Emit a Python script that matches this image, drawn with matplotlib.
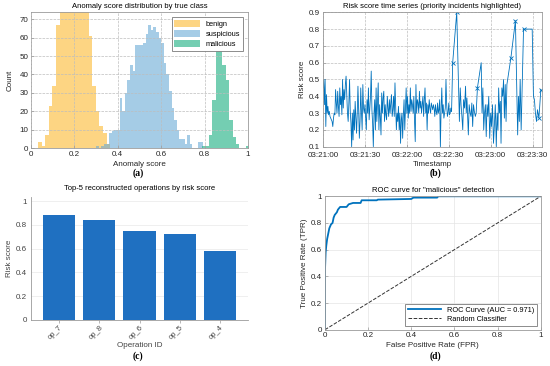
import numpy as np
import pandas as pd
import matplotlib
matplotlib.use('Agg')
import matplotlib.pyplot as plt
import matplotlib.dates as mdates

plt.rcParams['font.family'] = ['Liberation Sans', 'DejaVu Sans']
plt.rcParams['font.size'] = 5

# ---- (a) anomaly score histograms (bin start, bin width, counts) ----
benign_start, benign_width = 0.032, 1 / 60
benign_counts = [3, 1, 7, 23, 34, 67, 80, 92, 100, 104, 101, 96, 88, 78,
                 61, 34, 20, 12, 8, 2]
susp_start, susp_width = 0.300, 0.012
susp_counts = [1, 0, 1, 2, 2, 8, 9, 10, 10, 27, 20, 30, 37, 45, 42, 56, 56,
               56, 57, 62, 67, 64, 66, 63, 60, 57, 46, 40, 31, 22, 15, 10,
               5, 5, 2, 7, 2, 0, 0, 3, 3]
mal_start, mal_width = 0.790, 0.0154
mal_counts = [1, 1, 7, 26, 62, 58, 45, 37, 15, 6, 2, 0, 0, 1]

# ---- (b) risk score time series (seconds after 03:21:00) ----
dense_t = [i * 0.5 for i in range(185)]
dense_v = [0.45, 0.50, 0.35, 0.50, 0.22, 0.41, 0.30, 0.34, 0.29, 0.31,
           0.28, 0.27, 0.26, 0.25, 0.22, 0.27, 0.30, 0.29, 0.44, 0.36,
           0.30, 0.43, 0.34, 0.28, 0.45, 0.35, 0.40, 0.29, 0.50, 0.33,
           0.44, 0.38, 0.47, 0.52, 0.41, 0.30, 0.25, 0.36, 0.50, 0.31,
           0.24, 0.10, 0.30, 0.14, 0.32, 0.20, 0.37, 0.28, 0.18, 0.30,
           0.46, 0.32, 0.15, 0.25, 0.45, 0.31, 0.20, 0.47, 0.33, 0.30,
           0.35, 0.28, 0.20, 0.38, 0.30, 0.45, 0.26, 0.33, 0.40, 0.55,
           0.32, 0.24, 0.10, 0.30, 0.38, 0.20, 0.45, 0.25, 0.36, 0.48,
           0.20, 0.35, 0.28, 0.17, 0.42, 0.30, 0.39, 0.43, 0.25, 0.35,
           0.29, 0.26, 0.40, 0.33, 0.28, 0.38, 0.30, 0.36, 0.41, 0.28,
           0.32, 0.40, 0.28, 0.48, 0.33, 0.20, 0.30, 0.25, 0.34, 0.20,
           0.30, 0.12, 0.26, 0.30, 0.15, 0.29, 0.38, 0.20, 0.32, 0.45,
           0.30, 0.40, 0.27, 0.35, 0.30, 0.45, 0.31, 0.38, 0.35, 0.30,
           0.40, 0.25, 0.13, 0.47, 0.30, 0.38, 0.36, 0.30, 0.43, 0.33,
           0.37, 0.30, 0.35, 0.40, 0.28, 0.38, 0.45, 0.30, 0.36, 0.20,
           0.35, 0.30, 0.38, 0.33, 0.30, 0.36, 0.34, 0.32, 0.35, 0.33,
           0.28, 0.35, 0.31, 0.29, 0.36, 0.30, 0.32, 0.38, 0.10, 0.32,
           0.45, 0.30, 0.35, 0.27, 0.30, 0.33, 0.50, 0.35, 0.28, 0.30,
           0.36, 0.29, 0.30, 0.33, 0.31]
late_t = [92.8, 95.7, 97.6, 98.2, 98.8, 99.4, 100.0, 100.6, 101.3, 102.0,
          102.5, 103.0, 104.0, 104.6, 105.3, 105.9, 106.5, 107.1, 107.7,
          108.3, 109.0, 109.6, 110.5, 113.2, 113.8, 114.4, 115.0, 115.6,
          116.2, 116.8, 117.4, 118.0, 118.6, 119.3, 120.0, 120.6, 121.3,
          122.0, 122.6, 123.3, 124.0, 124.6, 125.2, 125.7, 126.3, 126.9,
          127.4, 128.0, 128.6, 129.2, 129.8, 130.4, 131.0, 131.6, 134.4,
          137.7, 139.3, 139.9, 140.5, 141.1, 141.8, 143.5, 149.7, 150.6,
          151.3, 152.0, 152.8, 153.5, 154.5, 155.9]
late_v = [0.60, 0.90, 0.25, 0.45, 0.35, 0.28, 0.20, 0.38, 0.33, 0.46,
          0.30, 0.39, 0.17, 0.35, 0.30, 0.28, 0.36, 0.22, 0.35,
          0.31, 0.28, 0.30, 0.45, 0.60, 0.30, 0.45, 0.20, 0.30,
          0.35, 0.16, 0.35, 0.28, 0.40, 0.15, 0.30, 0.22, 0.35,
          0.12, 0.22, 0.35, 0.10, 0.30, 0.20, 0.45, 0.30, 0.37,
          0.12, 0.45, 0.40, 0.50, 0.27, 0.47, 0.25, 0.47, 0.625,
          0.85, 0.17, 0.40, 0.25, 0.50, 0.20, 0.80, 0.80, 0.40,
          0.38, 0.30, 0.25, 0.32, 0.27, 0.44]
priority_t = [92.8, 95.7, 110.5, 134.4, 137.7, 143.5, 154.5, 155.9]
priority_v = [0.60, 0.90, 0.45, 0.625, 0.85, 0.80, 0.27, 0.44]

# ---- (c) top-5 operations ----
ops = ['op_7', 'op_8', 'op_6', 'op_5', 'op_4']
op_risk = [0.88, 0.84, 0.75, 0.72, 0.58]

# ---- (d) ROC curve ----
fpr = [0, 0, 0.003, 0.006, 0.01, 0.015, 0.02, 0.028, 0.035, 0.04, 0.045,
       0.05, 0.055, 0.06, 0.07, 0.10, 0.105, 0.11, 0.12, 0.13, 0.165, 0.17,
       0.24, 0.245, 0.40, 0.41, 0.52, 0.525, 1.0]
tpr = [0, 0.45, 0.58, 0.63, 0.68, 0.72, 0.76, 0.79, 0.80, 0.84, 0.86,
       0.87, 0.88, 0.90, 0.92, 0.92, 0.93, 0.94, 0.945, 0.95, 0.95, 0.97,
       0.97, 0.975, 0.98, 0.99, 0.99, 1.0, 1.0]
auc = 0.971

blue = '#0072BD'
txt = '#262626'
tick_fs = 5.8
lab_fs = 5.8


def matlab_style(ax, ls):
    for s in ax.spines.values():
        s.set_color('#9a9a9a')
        s.set_linewidth(0.6)
    ax.tick_params(direction='in', length=2, width=0.5, color='#9a9a9a',
                   labelcolor=txt, labelsize=tick_fs, pad=2)
    ax.grid(True, ls=ls, color='#bdbdbd', lw=0.5)


fig = plt.figure(figsize=(5.5, 3.66), dpi=100)

# (a)
ax1 = fig.add_axes([0.0564, 0.5956, 0.3945, 0.3716])
for start, w, counts, col, lab in [
        (benign_start, benign_width, benign_counts, '#FDB931', 'benign'),
        (susp_start, susp_width, susp_counts, '#6AAAD6', 'suspicious'),
        (mal_start, mal_width, mal_counts, '#17AE80', 'malicious')]:
    edges = start + w * np.arange(len(counts))
    ax1.bar(edges, counts, width=w, align='edge', color=col, alpha=0.6,
            lw=0, label=lab)
matlab_style(ax1, '--')
ax1.set_axisbelow(False)
ax1.set_xlim(0, 1)
ax1.set_ylim(0, 74)
ax1.set_xticks([0, 0.2, 0.4, 0.6, 0.8, 1])
ax1.set_xticklabels(['0', '0.2', '0.4', '0.6', '0.8', '1'])
ax1.set_yticks(range(0, 71, 10))
ax1.set_xlabel('Anomaly score', fontsize=lab_fs, color=txt, labelpad=2)
ax1.set_ylabel('Count', fontsize=lab_fs, color=txt, labelpad=4)
ax1.set_title('Anomaly score distribution by true class', fontsize=5.5,
              pad=3)
leg = ax1.legend(loc='upper right', fontsize=5.3, handlelength=3.4,
                 handleheight=1.1, fancybox=False, edgecolor='#7a7a7a',
                 framealpha=1, borderaxespad=0.7, labelspacing=0.25)
leg.get_frame().set_linewidth(0.6)

# (b)
ax2 = fig.add_axes([0.5873, 0.5992, 0.3976, 0.3672])
base = pd.Timestamp('2024-01-01 03:21:00')
ts = base + pd.to_timedelta(dense_t + late_t, unit='s')
ax2.plot(ts, dense_v + late_v, color=blue, lw=0.6)
pts = base + pd.to_timedelta(priority_t, unit='s')
ax2.plot(pts, priority_v, ls='none', marker='x', ms=3.5, mew=0.6, color=blue)
matlab_style(ax2, '--')
ax2.tick_params(axis='x', pad=3.5)
ax2.xaxis.set_major_locator(mdates.SecondLocator(bysecond=[0, 30]))
ax2.xaxis.set_major_formatter(mdates.DateFormatter('%H:%M:%S'))
ax2.set_xlim(ts[0], base + pd.Timedelta(seconds=156.5))
ax2.set_ylim(0.1, 0.9)
ax2.set_yticks(np.arange(0.1, 0.91, 0.1))
ax2.set_yticklabels(['0.1', '0.2', '0.3', '0.4', '0.5', '0.6', '0.7', '0.8',
                     '0.9'])
ax2.set_xlabel('Timestamp', fontsize=lab_fs, color=txt, labelpad=1.5)
ax2.set_ylabel('Risk score', fontsize=lab_fs, color=txt, labelpad=2)
ax2.set_title('Risk score time series (priority incidents highlighted)',
              fontsize=5.5, pad=3)

# (c)
ax3 = fig.add_axes([0.0564, 0.1265, 0.3945, 0.3366])
ax3.bar(ops, op_risk, width=0.8, color='#1f70c1', zorder=3)
for side in ['top', 'right']:
    ax3.spines[side].set_visible(False)
for side in ['left', 'bottom']:
    ax3.spines[side].set_color('#9a9a9a')
    ax3.spines[side].set_linewidth(0.6)
ax3.yaxis.grid(True, color='#ececec', lw=0.6)
ax3.set_axisbelow(True)
ax3.tick_params(axis='y', length=0, labelsize=tick_fs, labelcolor='#444444',
                pad=3)
ax3.tick_params(axis='x', length=2, width=0.5, color='#9a9a9a',
                labelsize=5.5, labelcolor='#444444', pad=1)
plt.setp(ax3.get_xticklabels(), rotation=45, ha='right',
         rotation_mode='anchor')
ax3.set_xlim(-0.7, 4.7)
ax3.set_ylim(0, 1.04)
ax3.set_yticks([0, 0.2, 0.4, 0.6, 0.8, 1])
ax3.set_yticklabels(['0', '0.2', '0.4', '0.6', '0.8', '1'])
ax3.set_xlabel('Operation ID', fontsize=lab_fs, color='#444444', labelpad=1)
ax3.set_ylabel('Risk score', fontsize=lab_fs, color='#444444', labelpad=2)
ax3.set_title('Top-5 reconstructed operations by risk score', fontsize=5.5,
              pad=5)

# (d)
ax4 = fig.add_axes([0.5909, 0.0992, 0.3922, 0.3645])
ax4.plot(fpr, tpr, color=blue, lw=1.3,
         label=f'ROC Curve (AUC = {auc:.3f})')
ax4.plot([0, 1], [0, 1], color='#333333', ls='--', lw=0.7,
         label='Random Classifier')
matlab_style(ax4, '-')
ax4.grid(True, color='#e4e4e4', lw=0.5)
ax4.set_xlim(0, 1)
ax4.set_ylim(0, 1)
ticks = [0, 0.2, 0.4, 0.6, 0.8, 1]
labs = ['0', '0.2', '0.4', '0.6', '0.8', '1']
ax4.set_xticks(ticks)
ax4.set_xticklabels(labs)
ax4.set_yticks(ticks)
ax4.set_yticklabels(labs)
ax4.set_xlabel('False Positive Rate (FPR)', fontsize=lab_fs, color=txt,
               labelpad=2)
ax4.set_ylabel('True Positive Rate (TPR)', fontsize=lab_fs, color=txt,
               labelpad=2)
ax4.set_title('ROC curve for "malicious" detection', fontsize=5.5, pad=3)
leg2 = ax4.legend(loc='lower right', fontsize=5.3, handlelength=4.5,
                  fancybox=False, edgecolor='#7a7a7a', framealpha=1,
                  borderaxespad=0.5, labelspacing=0.3)
leg2.get_frame().set_linewidth(0.6)

for x, y, s in [(0.251, 0.527, '(a)'), (0.791, 0.527, '(b)'),
                (0.251, 0.027, '(c)'), (0.791, 0.027, '(d)')]:
    fig.text(x, y, s, ha='center', va='center', fontsize=7,
             fontweight='bold', family='Liberation Serif')

fig.savefig('out.png', dpi=100)
